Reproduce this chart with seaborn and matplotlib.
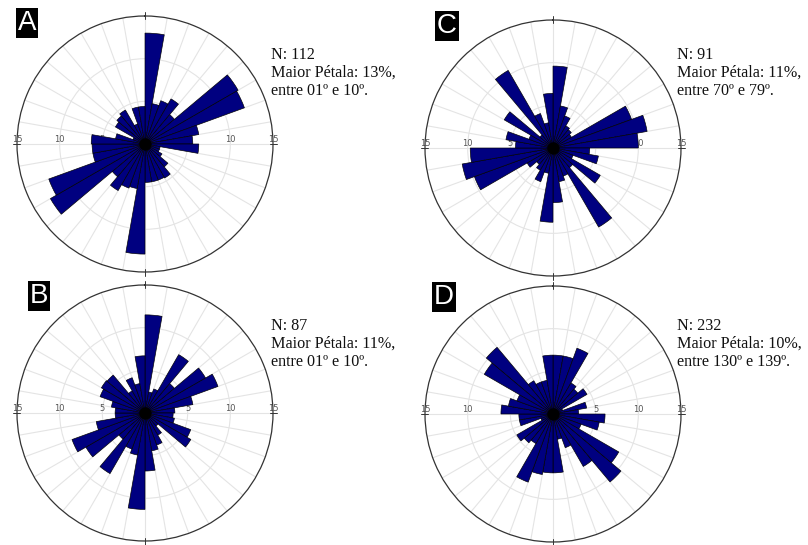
import numpy as np
import matplotlib
matplotlib.use("Agg")
import matplotlib.pyplot as plt
import seaborn as sns

# rose diagrams, 36 classes of 10 degrees, frequency in %
bins_deg = np.arange(0, 360, 10)

rose_a = [13.0, 4.8, 5.4, 6.1, 4.5, 12.6, 12.4, 6.4, 5.6, 6.3, 1.8, 1.8,
          2.3, 3.5, 4.6, 4.5, 4.5, 4.5, 12.9, 5.3, 5.5, 6.3, 5.0, 12.8,
          12.0, 6.2, 6.2, 6.3, 3.5, 1.5, 4.0, 4.3, 4.6, 2.5, 4.4, 4.4]
rose_b = [11.5, 2.5, 3.0, 7.9, 4.5, 8.2, 9.1, 5.7, 3.5, 3.3, 3.5, 5.7,
          6.2, 2.0, 3.0, 4.0, 4.5, 6.8, 11.3, 5.0, 4.5, 8.2, 4.0, 8.0,
          9.1, 5.8, 3.5, 3.5, 4.0, 5.6, 5.9, 5.8, 3.0, 4.4, 3.5, 6.7]
rose_c = [9.6, 5.0, 4.0, 3.0, 2.8, 2.5, 9.8, 11.2, 10.0, 4.3, 5.4, 2.5,
          6.4, 3.0, 10.7, 3.5, 4.0, 6.4, 8.7, 3.0, 4.2, 3.0, 2.5, 3.5,
          9.8, 10.8, 9.7, 4.4, 5.6, 3.0, 6.6, 2.0, 10.5, 4.3, 3.0, 6.4]
rose_d = [6.9, 6.9, 8.2, 4.2, 3.8, 4.6, 1.2, 4.0, 3.0, 6.1, 5.5, 3.5,
          8.9, 10.4, 7.1, 4.2, 3.0, 6.9, 6.9, 7.2, 8.5, 4.0, 4.4, 4.9,
          1.5, 4.0, 4.0, 6.1, 5.3, 4.5, 9.3, 10.2, 4.5, 4.0, 4.0, 6.9]

letters = ["A", "B", "C", "D"]
n_values = [112, 87, 91, 232]
max_petal = [13, 11, 11, 10]
max_class = ["01º e 10º", "01º e 10º", "70º e 79º", "130º e 139º"]

sns.set_theme(style="white")

W, H = 808, 545
fig = plt.figure(figsize=(W / 100, H / 100), dpi=100)

R = 128  # px radius of the 15% circle
centers = [(145, 144), (145, 413), (553, 148), (553, 414)]
letter_pos = [(27, 23), (39, 296), (447, 26), (444, 297)]
text_pos = [(271, 47), (271, 318), (677, 47), (677, 318)]
roses = [rose_a, rose_b, rose_c, rose_d]

theta = np.deg2rad(bins_deg)
width = np.deg2rad(10)

for i in range(4):
    cx, cy = centers[i]
    ax = fig.add_axes([(cx - R) / W, 1 - (cy + R) / H, 2 * R / W, 2 * R / H],
                      projection="polar")
    ax.set_theta_zero_location("N")
    ax.set_theta_direction(-1)
    ax.set_ylim(0, 15)
    ax.set_thetagrids(np.arange(0, 360, 10), labels=[])
    ax.set_rgrids([5, 10], labels=[])
    ax.grid(color="#e4e4e4", lw=0.8)
    ax.spines["polar"].set_color("#333333")
    ax.spines["polar"].set_linewidth(0.9)
    ax.set_facecolor("white")

    ax.bar(theta, roses[i], width=width, align="edge", color="#000080",
           edgecolor="black", linewidth=0.45, zorder=3)
    ax.scatter([0], [0], s=60, color="black", zorder=5)

    # scale labels along the E-W line
    for r in [5, 10, 15]:
        for ang in [90, 270]:
            ax.text(np.deg2rad(ang), r, str(r), ha="center", va="bottom",
                    fontsize=6, color="#555555", zorder=1)
    # small ticks at N, E, S, W
    for ang in [0, 90, 180, 270]:
        ax.plot([np.deg2rad(ang)] * 2, [14.6, 15.5], color="#333333",
                lw=0.7, clip_on=False, zorder=4)

    lx, ly = letter_pos[i]
    fig.text(lx / W, 1 - ly / H, letters[i], color="white", fontsize=20,
             ha="center", va="center", family="Liberation Sans",
             bbox=dict(facecolor="black", edgecolor="none", pad=1.2))

    tx, ty = text_pos[i]
    label = (f"N: {n_values[i]}\nMaior Pétala: {max_petal[i]}%,\n"
             f"entre {max_class[i]}.")
    fig.text(tx / W, 1 - ty / H, label, ha="left", va="top", fontsize=11.6,
             family="Liberation Serif", color="#111111", linespacing=1.15)

fig.savefig("out.png", dpi=100)
